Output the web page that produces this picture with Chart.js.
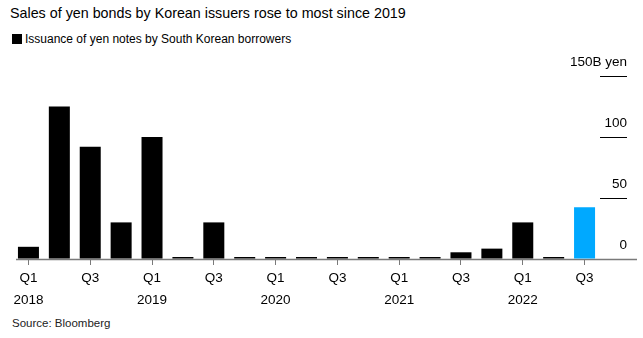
<!DOCTYPE html>
<html>
<head>
<meta charset="utf-8">
<script src="https://cdn.jsdelivr.net/npm/chart.js@4/dist/chart.umd.min.js"></script>
<style>
  body { margin: 0; background: #fff; font-family: "Liberation Sans", Arial, sans-serif; color: #000; }
  #wrap { position: relative; width: 643px; height: 338px; overflow: hidden; }
  .title { position: absolute; left: 10px; top: 5px; font-size: 14.3px; white-space: nowrap; }
  .legend { position: absolute; left: 12px; top: 32px; font-size: 12px; white-space: nowrap; }
  .legend span { display: inline-block; width: 10px; height: 10px; background: #000; margin-right: 3px; vertical-align: -1px; }
  .source { position: absolute; left: 12px; top: 317px; font-size: 11.5px; color: #222; white-space: nowrap; }
  #box { position: absolute; left: 0; top: 56px; width: 643px; height: 250px; }
</style>
</head>
<body>
<div id="wrap">
  <div class="title">Sales of yen bonds by Korean issuers rose to most since 2019</div>
  <div class="legend"><span></span>Issuance of yen notes by South Korean borrowers</div>
  <div id="box"><canvas id="chart"></canvas></div>
  <div class="source">Source: Bloomberg</div>
</div>
<script>
// quarters, Q1 2018 .. Q3 2022
const quarters = [
    "Q1 2018", "Q2 2018", "Q3 2018", "Q4 2018",
    "Q1 2019", "Q2 2019", "Q3 2019", "Q4 2019",
    "Q1 2020", "Q2 2020", "Q3 2020", "Q4 2020",
    "Q1 2021", "Q2 2021", "Q3 2021", "Q4 2021",
    "Q1 2022", "Q2 2022", "Q3 2022",
];
// issuance, billion yen
const issuance = [10, 125, 92, 30, 100, 0, 30, 0, 0, 0, 0, 0, 0, 0, 5.5, 8.5, 30, 0, 42.5];
const yTicks = [0, 50, 100, 150];

const fontFamily = '"Liberation Sans", Arial, sans-serif';
const barColors = issuance.map((v, i) => (i === issuance.length - 1 ? "#00a9ff" : "#000"));

// gray baseline that runs under the y labels too
const baseline = {
    id: "baseline",
    beforeDatasetsDraw(chart) {
        const { ctx, chartArea, scales } = chart;
        const y = Math.round(scales.y.getPixelForValue(0)) + 0.5;
        ctx.save();
        ctx.strokeStyle = "#7a7a7a";
        ctx.lineWidth = 1.5;
        ctx.beginPath();
        ctx.moveTo(chartArea.left + 3, y);
        ctx.lineTo(637, y);
        ctx.stroke();
        ctx.restore();
    },
};

new Chart(document.getElementById("chart"), {
    type: "bar",
    data: {
        labels: quarters,
        datasets: [
            {
                data: issuance,
                backgroundColor: barColors,
                barPercentage: 0.68,
                categoryPercentage: 1,
                minBarLength: 2,
            },
        ],
    },
    options: {
        responsive: true,
        maintainAspectRatio: false,
        animation: false,
        layout: { padding: { left: 13, right: 16, top: 20, bottom: 0 } },
        plugins: { legend: { display: false }, tooltip: { enabled: false } },
        scales: {
            x: {
                offset: true,
                border: { display: false },
                grid: {
                    offset: false,
                    drawOnChartArea: false,
                    tickLength: 6,
                    tickColor: (c) => (c.index % 2 === 0 ? "#7a7a7a" : "rgba(0,0,0,0)"),
                },
                ticks: {
                    autoSkip: false,
                    maxRotation: 0,
                    padding: 2,
                    color: "#000",
                    font: { family: fontFamily, size: 13.5, lineHeight: 1.63 },
                    callback: function (v, i) {
                        if (i % 2 !== 0) return "";
                        const [q, yr] = quarters[i].split(" ");
                        return q === "Q1" ? [q, yr] : q;
                    },
                },
                afterFit: (s) => { s.height = 47; },
            },
            y: {
                position: "right",
                min: 0,
                max: 150,
                afterBuildTicks: (s) => { s.ticks = yTicks.map((v) => ({ value: v })); },
                border: { display: false },
                grid: { drawOnChartArea: false, tickLength: 27, color: "#000", lineWidth: 1 },
                ticks: {
                    mirror: true,
                    crossAlign: "near",
                    padding: 27,
                    labelOffset: -13.5,
                    color: "#000",
                    font: { family: fontFamily, size: 13.5 },
                    callback: (v) => (v === 150 ? "150B yen" : v),
                },
                afterFit: (s) => {
                    s.width = 27;
                    s.paddingTop = 0;
                    s.paddingBottom = 0;
                },
            },
        },
    },
    plugins: [baseline],
});
</script>
</body>
</html>
